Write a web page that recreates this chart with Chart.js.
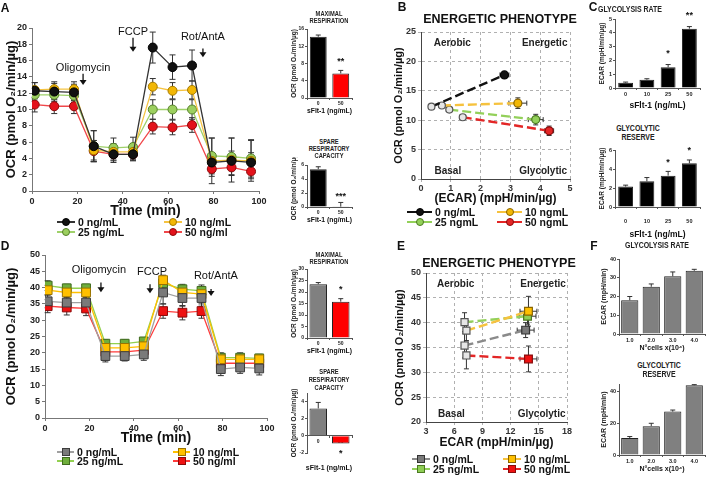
<!DOCTYPE html>
<html>
<head>
<meta charset="utf-8">
<title>sFlt-1 bioenergetics</title>
<script src="https://cdn.jsdelivr.net/npm/chart.js@4.4.1/dist/chart.umd.min.js"></script>
<style>
  html, body { margin: 0; padding: 0; background: #fff; }
  body { width: 708px; height: 478px; position: relative; overflow: hidden;
         font-family: 'Liberation Sans', Arial, sans-serif; color: #111; }
  canvas { position: absolute; }
  .lbl { position: absolute; font-weight: bold; white-space: nowrap; line-height: 1; }
  .ctr { transform: translate(-50%, -50%); }
  .nar { transform: translate(-50%, -50%) scaleX(0.82); color: #222; }
  .leg { position: absolute; font-weight: bold; font-size: 10.5px; white-space: nowrap; line-height: 1; }
  .leg i { position: absolute; display: block; box-sizing: border-box; }
</style>
</head>
<body>
<script>
// time of each Seahorse measurement (min)
const timePts = [1.2, 9.8, 18.5, 27.2, 35.9, 44.5, 53.2, 61.9, 70.5, 79.2, 87.9, 96.5];

// panel A: OCR per sFlt-1 dose
const ocrA0  = [12.3, 12.2, 12.1, 5.5, 4.5, 4.5, 17.6, 15.2, 15.4, 3.5, 3.7, 3.5];
const ocrA10 = [12.4, 12.5, 12.5, 5.0, 4.8, 4.8, 12.8, 12.3, 12.4, 3.7, 3.8, 3.7];
const ocrA25 = [11.8, 11.8, 11.7, 5.5, 5.3, 5.4, 10.0, 10.0, 10.0, 4.3, 4.2, 4.0];
const ocrA50 = [10.6, 10.4, 10.4, 4.9, 4.5, 4.5, 7.9, 7.8, 8.1, 2.7, 2.9, 2.4];
const errA0  = [1.0, 1.0, 1.0, 1.9, 1.0, 0.8, 1.9, 1.5, 1.9, 1.0, 1.2, 1.2];
const errA10 = [0.9, 0.9, 0.9, 1.2, 1.0, 1.0, 1.0, 1.0, 1.1, 2.8, 2.7, 2.5];
const errA25 = [0.8, 0.8, 0.8, 1.9, 1.2, 1.2, 1.2, 1.2, 1.2, 2.2, 2.3, 2.3];
const errA50 = [0.9, 0.9, 0.9, 1.3, 0.8, 0.7, 0.9, 0.9, 0.9, 0.9, 0.9, 0.9];

// panel D: OCR per sFlt-1 dose
const ocrD0  = [35.8, 35.4, 35.4, 19.0, 19.0, 19.5, 38.5, 36.8, 36.8, 15.0, 15.5, 15.2];
const ocrD10 = [39.2, 38.5, 38.5, 21.5, 21.5, 22.0, 42.3, 38.5, 38.0, 18.0, 18.0, 18.0];
const ocrD25 = [40.6, 39.8, 39.8, 22.8, 22.8, 23.5, 41.3, 39.5, 39.0, 18.5, 18.5, 18.3];
const ocrD50 = [34.3, 33.9, 33.6, 20.3, 20.3, 20.8, 32.8, 32.3, 32.8, 16.8, 16.8, 16.8];
const errD0  = [2.0, 2.0, 2.0, 1.8, 1.5, 1.8, 3.5, 2.5, 2.5, 2.0, 1.8, 2.0];
const errD10 = [1.5, 1.5, 1.5, 1.5, 1.5, 1.5, 1.5, 1.8, 1.8, 1.5, 1.5, 1.5];
const errD25 = [1.5, 1.2, 1.2, 1.2, 1.2, 1.2, 1.5, 1.5, 1.8, 1.5, 1.5, 1.2];
const errD50 = [2.0, 2.3, 2.2, 2.5, 2.3, 2.3, 2.2, 2.2, 2.2, 1.5, 1.5, 1.5];

// small bar panels
const doseTwo = ['0', '50'];
const maxRespA = [14.2, 5.7],  maxRespAErr = [0.4, 0.7];
const spareA   = [5.4, 0.05],  spareAErr   = [0.35, 0.6];
const maxRespD = [23.4, 15.8], maxRespDErr = [0.7, 1.3];
const spareD   = [3.2, -0.9],  spareDErr   = [0.7, 0];

const doseFour = ['0', '10', '25', '50'];
const glycoRateC = [0.38, 0.6, 1.5, 4.3],  glycoRateCErr = [0.05, 0.07, 0.2, 0.15];
const glycoResC  = [2.15, 2.7, 3.3, 4.6],  glycoResCErr  = [0.15, 0.4, 0.45, 0.35];
const cellsF = ['1.0', '2.0', '3.0', '4.0'];
const glycoRateF = [18, 25.2, 30.8, 33.7], glycoRateFErr = [2, 1.5, 2.3, 0.8];
const glycoResF  = [10.7, 18.3, 27.5, 44.2], glycoResFErr = [1, 1.8, 1, 0.4];

// energetic phenotype B (ECAR, OCR) basal -> stressed
const phBBasalX  = [0.35, 0.7, 0.95, 1.4],  phBBasalY  = [12.3, 12.5, 11.8, 10.5];
const phBStressX = [2.8, 3.25, 3.85, 4.3],  phBStressY = [17.7, 12.9, 10.1, 8.2];
const phBBasalXErr  = [0.08, 0.1, 0.1, 0.1],  phBBasalYErr  = [0.3, 0.3, 0.3, 0.3];
const phBStressXErr = [0.15, 0.3, 0.25, 0.15], phBStressYErr = [0.3, 0.9, 0.9, 0.8];

// energetic phenotype E
const phEBasalX  = [7.1, 7.3, 7.1, 7.3],    phEBasalY  = [35.4, 38.4, 40.1, 33.4];
const phEStressX = [13.6, 13.9, 13.8, 13.9], phEStressY = [38.5, 42.3, 41.3, 32.7];
const phEBasalXErr  = [0.2, 0.2, 0.2, 0.2],  phEBasalYErr  = [2.5, 2.0, 1.9, 2.7];
const phEStressXErr = [0.9, 0.9, 0.9, 0.9],  phEStressYErr = [1.5, 3.0, 1.6, 2.6];

const doseNamesA = ['0 ng/mL', '10 ng/mL', '25 ng/mL', '50 ng/ml'];
const doseNamesB = ['0 ng/mL', '10 ngmL', '25 ngmL', '50 ngmL'];
const doseNamesE = ['0 ng/mL', '10 ng/mL', '25 ng/mL', '50 ng/mL'];

const stylesA = [
  { fill: '#111111', border: '#000000', line: '#333333' },
  { fill: '#f2b705', border: '#a57a00', line: '#f5c342' },
  { fill: '#9ccf5f', border: '#557f2b', line: '#9fd16a' },
  { fill: '#e3121b', border: '#8c0a0a', line: '#f0474a' }
];
const stylesD = [
  { fill: '#7a7a7a', border: '#3c3c3c', line: '#a0a0a0' },
  { fill: '#ffc000', border: '#9a7300', line: '#ffc000' },
  { fill: '#6fae3c', border: '#3f6b1e', line: '#92d050' },
  { fill: '#ee1111', border: '#8a0a0a', line: '#ff3b3b' }
];
const stylesB = [
  { fill: '#111111', border: '#000000', line: '#111111' },
  { fill: '#f2b705', border: '#8a6500', line: '#f6c23e' },
  { fill: '#93d05a', border: '#4c7a22', line: '#93d05a' },
  { fill: '#e32626', border: '#8a0a0a', line: '#e32626' }
];
const stylesE = [
  { fill: '#7a7a7a', border: '#333333', line: '#8a8a8a' },
  { fill: '#ffc000', border: '#8a6500', line: '#f6c23e' },
  { fill: '#8fce55', border: '#4c7a22', line: '#93d05a' },
  { fill: '#ee1111', border: '#8a0a0a', line: '#e32626' }
];

const FONT = "'Liberation Sans', Arial, sans-serif";
Chart.defaults.font.family = FONT;
Chart.defaults.color = '#222';

// error bars, arrows, notes, asterisks, quadrant names
function drawErrors(chart, o) {
  const ctx = chart.ctx;
  chart.data.datasets.forEach((ds, i) => {
    if (!ds.errY && !ds.errX) return;
    const meta = chart.getDatasetMeta(i);
    const xs = chart.scales[meta.xAxisID], ys = chart.scales[meta.yAxisID];
    const cap = o.cap || 3;
    ctx.save();
    ctx.strokeStyle = o.errColor || '#333';
    ctx.lineWidth = 1;
    meta.data.forEach((el, j) => {
      const d = ds.data[j];
      const yv = typeof d === 'object' ? d.y : d;
      const xv = typeof d === 'object' ? d.x : null;
      ctx.beginPath();
      const ey = ds.errY && ds.errY[j];
      if (ey) {
        const t = ys.getPixelForValue(yv + ey);
        const b = ys.getPixelForValue(o.upOnly ? yv : yv - ey);
        ctx.moveTo(el.x, t); ctx.lineTo(el.x, b);
        ctx.moveTo(el.x - cap, t); ctx.lineTo(el.x + cap, t);
        if (!o.upOnly) { ctx.moveTo(el.x - cap, b); ctx.lineTo(el.x + cap, b); }
      }
      const ex = ds.errX && ds.errX[j];
      if (ex) {
        const l = xs.getPixelForValue(xv - ex), r = xs.getPixelForValue(xv + ex);
        ctx.moveTo(l, el.y); ctx.lineTo(r, el.y);
        ctx.moveTo(l, el.y - cap); ctx.lineTo(l, el.y + cap);
        ctx.moveTo(r, el.y - cap); ctx.lineTo(r, el.y + cap);
      }
      ctx.stroke();
    });
    ctx.restore();
  });
}

const extras = {
  id: 'extras',
  beforeDatasetsDraw(chart, args, o) { if (!o.onTop) drawErrors(chart, o); },
  afterDatasetsDraw(chart, args, o) { if (o.onTop) drawErrors(chart, o); },
  afterDraw(chart, args, o) {
    const ctx = chart.ctx, xs = chart.scales.x, ys = chart.scales.y, ca = chart.chartArea;
    ctx.save();
    ctx.textAlign = 'center';
    ctx.textBaseline = 'middle';
    ctx.fillStyle = '#111';
    (o.notes || []).forEach(n => {
      ctx.font = 'normal 11px ' + FONT;
      ctx.fillText(n.text, xs.getPixelForValue(n.x), ys.getPixelForValue(n.y));
    });
    (o.arrows || []).forEach(a => {
      const x = xs.getPixelForValue(a.x), y1 = ys.getPixelForValue(a.y1), y2 = ys.getPixelForValue(a.y2);
      ctx.strokeStyle = '#111'; ctx.lineWidth = 1.3;
      ctx.beginPath(); ctx.moveTo(x, y1); ctx.lineTo(x, y2 - 4); ctx.stroke();
      ctx.beginPath(); ctx.moveTo(x - 3.5, y2 - 5); ctx.lineTo(x + 3.5, y2 - 5); ctx.lineTo(x, y2); ctx.closePath(); ctx.fill();
    });
    if (o.stars) {
      const ds = chart.data.datasets[0], meta = chart.getDatasetMeta(0);
      ctx.font = 'bold ' + (o.starSize || 9) + 'px ' + FONT;
      o.stars.forEach((s, j) => {
        if (!s) return;
        const v = ds.data[j], e = (ds.errY && ds.errY[j]) || 0, x = meta.data[j].x;
        if (v >= 0) ctx.fillText(s, x, ys.getPixelForValue(v + e) - (o.starGap || 8));
        else ctx.fillText(s, x, ys.getPixelForValue(v) + (o.starGap || 8) + 4);
      });
    }
    (o.quad || []).forEach(q => {
      ctx.font = 'bold 10px ' + FONT;
      ctx.fillStyle = '#222';
      ctx.fillText(q.text, ca.left + q.fx * (ca.right - ca.left), ca.top + q.fy * (ca.bottom - ca.top));
    });
    ctx.restore();
  }
};
Chart.register(extras);

// place a canvas so that its plot area lands on [x0, y0, x1, y1]
const PT = 8;
function makeChart(id, area, yW, xH, pr, cfg) {
  const [x0, y0, x1, y1] = area;
  const c = document.createElement('canvas');
  c.id = id;
  c.width = x1 - x0 + yW + pr;
  c.height = y1 - y0 + PT + xH;
  c.style.left = (x0 - yW) + 'px';
  c.style.top = (y0 - PT) + 'px';
  document.body.appendChild(c);
  const op = cfg.options;
  op.responsive = false;
  op.animation = false;
  op.devicePixelRatio = 1;
  op.layout = { padding: { left: 0, top: PT, right: pr, bottom: 0 } };
  op.scales.x.afterFit = s => { s.height = xH; };
  op.scales.y.afterFit = s => { s.width = yW; };
  op.plugins = Object.assign({ legend: { display: false }, tooltip: { enabled: false } }, op.plugins);
  return new Chart(c, cfg);
}

function text(x, y, str, size, cls, extra) {
  const d = document.createElement('div');
  d.className = 'lbl ' + (cls || 'ctr');
  d.style.left = x + 'px';
  d.style.top = y + 'px';
  d.style.fontSize = size + 'px';
  if (extra) d.style.cssText += extra;
  d.textContent = str;
  document.body.appendChild(d);
}

function legend(xs, ys, lineW, names, styles, shape, size) {
  names.forEach((name, i) => {
    const s = styles[i], x = xs[i % 2], y = ys[Math.floor(i / 2)];
    const m = size || 8;
    const d = document.createElement('div');
    d.className = 'leg';
    d.style.left = x + 'px';
    d.style.top = y + 'px';
    d.innerHTML =
      '<i style="left:0;top:-1px;width:' + lineW + 'px;height:2px;background:' + s.line + '"></i>' +
      '<i style="left:' + (lineW / 2 - m / 2) + 'px;top:' + (-m / 2) + 'px;width:' + m + 'px;height:' + m +
      'px;border:1px solid ' + s.border + ';background:' + s.fill + ';border-radius:' + (shape === 'circle' ? '50%' : '0') + '"></i>' +
      '<span style="position:absolute;left:' + (lineW + 3) + 'px;top:0;transform:translateY(-50%)">' + name + '</span>';
    document.body.appendChild(d);
  });
}

function axis(size, extra) {
  return Object.assign({
    ticks: { font: { size: size, weight: 'bold' }, color: '#222', padding: 1 },
    grid: { drawOnChartArea: false, tickLength: 3, color: '#777' },
    border: { color: '#777' }
  }, extra);
}

// ---------- seahorse time courses ----------
function timeSets(series, errs, styles, shape, r) {
  return series.map((vals, i) => ({
    data: timePts.map((t, k) => ({ x: t, y: vals[k] })),
    errY: errs[i],
    borderColor: styles[i].line,
    borderWidth: 1.3,
    pointBackgroundColor: styles[i].fill,
    pointBorderColor: styles[i].border,
    pointBorderWidth: 1,
    pointRadius: r,
    pointStyle: shape
  }));
}

function timeCourse(id, area, series, errs, styles, shape, r, ymax, ystep, notes, arrows) {
  return makeChart(id, area, area[0], 30, 12, {
    type: 'line',
    data: { datasets: timeSets(series, errs, styles, shape, r) },
    options: {
      scales: {
        x: axis(9, {
          type: 'linear', min: 0, max: 100,
          ticks: { stepSize: 20, font: { size: 9, weight: 'bold' }, color: '#222', padding: 2 },
          title: { display: true, text: 'Time (min)', font: { size: 14, weight: 'bold' }, color: '#111', padding: { top: 0, bottom: 1 } }
        }),
        y: axis(9, {
          min: 0, max: ymax,
          ticks: { stepSize: ystep, font: { size: 9, weight: 'bold' }, color: '#222', padding: 2 },
          title: { display: true, text: 'OCR (pmol O\u2082/min/\u00b5g)', font: { size: 13, weight: 'bold' }, color: '#111', padding: { top: 4, bottom: 0 } }
        })
      },
      plugins: { extras: { cap: 3, notes: notes, arrows: arrows } }
    }
  });
}

timeCourse('cA', [32, 28, 259, 191], [ocrA0, ocrA10, ocrA25, ocrA50], [errA0, errA10, errA25, errA50],
  stylesA, 'circle', 4.5, 20, 2,
  [{ x: 22.5, y: 15.1, text: 'Oligomycin' }, { x: 44.5, y: 19.5, text: 'FCCP' }, { x: 75.3, y: 18.9, text: 'Rot/AntA' }],
  [{ x: 22.5, y1: 14.4, y2: 13.0 }, { x: 44.5, y1: 18.8, y2: 17.1 }, { x: 75.3, y1: 17.5, y2: 16.4 }]);

timeCourse('cD', [45, 255, 267, 418], [ocrD0, ocrD10, ocrD25, ocrD50], [errD0, errD10, errD25, errD50],
  stylesD, 'rect', 6.2, 50, 5,
  [{ x: 24.3, y: 45.4, text: 'Oligomycin' }, { x: 48.2, y: 44.8, text: 'FCCP' }, { x: 77, y: 43.6, text: 'Rot/AntA' }],
  [{ x: 25.2, y1: 41.6, y2: 38.6 }, { x: 47.3, y1: 41.0, y2: 38.3 }, { x: 74.8, y1: 39.6, y2: 37.4 }]);

legend([57, 164], [222, 232], 18, doseNamesA, stylesA, 'circle', 8);
legend([57, 173], [452, 461], 17, doseNamesA, stylesD, 'square', 8);

// ---------- small bar charts ----------
function barChart(id, area, yW, xH, labels, vals, errs, colors, yr, o) {
  const x = axis(o.tick, {
    z: 1,
    ticks: { font: { size: o.tick, weight: 'bold' }, color: '#222', padding: o.tp || 1 },
    grid: { drawOnChartArea: false, tickLength: 2, color: '#555' },
    border: { color: '#555' },
    title: { display: !!o.xTitle, text: o.xTitle || '', font: { size: o.xt, weight: 'bold' }, color: '#111', padding: 0 }
  });
  if (o.xPos) x.position = o.xPos;
  return makeChart(id, area, yW, xH, 3, {
    type: 'bar',
    data: {
      labels: labels,
      datasets: [{ data: vals, errY: errs, backgroundColor: colors, borderColor: '#222', borderWidth: 1,
                   barPercentage: o.bp, categoryPercentage: 1 }]
    },
    options: {
      scales: {
        x: x,
        y: axis(o.tick, {
          min: yr[0], max: yr[1],
          ticks: { stepSize: yr[2], includeBounds: false, font: { size: o.tick, weight: 'bold' }, color: '#222', padding: 1 },
          grid: { drawOnChartArea: false, tickLength: 2, color: '#555' },
          border: { color: '#555' },
          title: { display: true, text: o.yTitle, font: { size: o.yt, weight: 'bold' }, color: '#222', padding: { top: o.ytp, bottom: 0 } }
        })
      },
      plugins: { extras: { cap: 2.5, upOnly: true, onTop: true, stars: o.stars, starSize: o.ss || 9, starGap: o.sg || 8 } }
    }
  });
}

const ocrSmall = 'OCR (pmol O\u2082/min/\u00b5g)';
const sflt = 'sFlt-1 (ng/mL)';

barChart('aMax', [307, 29, 352, 98], 22, 17, doseTwo, maxRespA, maxRespAErr, ['#000000', '#ff0000'], [0, 16, 2],
  { tick: 5, bp: 0.75, xTitle: sflt, xt: 7, yTitle: ocrSmall, yt: 6.5, ytp: 5, stars: ['', '**'], sg: 9 });
barChart('aSpare', [307, 165, 352, 207], 22, 17, doseTwo, spareA, spareAErr, ['#000000', '#ff0000'], [0, 6, 1],
  { tick: 5, bp: 0.75, xTitle: sflt, xt: 7, yTitle: ocrSmall, yt: 6.5, ytp: 5, stars: ['', '***'], sg: 6 });
barChart('dMax', [307, 269, 352, 338], 22, 17, doseTwo, maxRespD, maxRespDErr, ['#808080', '#ff0000'], [0, 30, 5],
  { tick: 5, bp: 0.78, xTitle: sflt, xt: 7, yTitle: ocrSmall, yt: 6.5, ytp: 5, stars: ['', '*'], sg: 9 });
barChart('dSpare', [307, 393, 352, 455], 22, 2, doseTwo, spareD, spareDErr, ['#808080', '#ff0000'], [-2, 5, 2],
  { tick: 5, bp: 0.78, xPos: { y: 0 }, yTitle: ocrSmall, yt: 6.5, ytp: 5, stars: ['', '*'], sg: 6 });
text(329, 467, sflt, 7);

const ecarUg = 'ECAR (mpH/min/\u00b5g)';
barChart('cRate', [615, 19, 700, 88], 25, 23, doseFour, glycoRateC, glycoRateCErr, '#000000', [0, 5, 1],
  { tick: 5.5, tp: 1, bp: 0.7, xTitle: sflt, xt: 8.5, yTitle: ecarUg, yt: 6.5, ytp: 8, stars: ['', '', '*', '**'], sg: 11 });
barChart('cRes', [615, 150, 700, 207], 25, 33, doseFour, glycoResC, glycoResCErr, '#000000', [0, 6, 1],
  { tick: 5.5, tp: 9, bp: 0.7, xTitle: sflt, xt: 8.5, yTitle: ecarUg, yt: 6.5, ytp: 8, stars: ['', '', '*', '*'], sg: 9 });

const ecarF = 'ECAR (mpH/min)';
const cellsTitle = 'N\u00b0cells x(10\u2074)';
barChart('fRate', [619, 259, 705, 334], 29, 18, cellsF, glycoRateF, glycoRateFErr, '#808080', [0, 40, 10],
  { tick: 5.5, bp: 0.8, xTitle: cellsTitle, xt: 7, yTitle: ecarF, yt: 7, ytp: 10, stars: null });
barChart('fRes', [619, 384, 705, 455], 29, 18, cellsF, glycoResF, glycoResFErr, '#808080', [0, 45, 20],
  { tick: 5.5, bp: 0.8, xTitle: cellsTitle, xt: 7, yTitle: ecarF, yt: 7, ytp: 10, stars: null });

// ---------- energetic phenotype ----------
function phenoSets(bx, by, sx, sy, bxe, bye, sxe, sye, styles, shape, rb, rs) {
  return styles.map((s, i) => ({
    data: [{ x: bx[i], y: by[i] }, { x: sx[i], y: sy[i] }],
    errX: [bxe[i], sxe[i]],
    errY: [bye[i], sye[i]],
    showLine: true,
    borderColor: s.line,
    borderWidth: 2.4,
    borderDash: [9, 4],
    pointBackgroundColor: ['#e6e6e6', s.fill],
    pointBorderColor: ['#555555', s.border],
    pointBorderWidth: 1.2,
    pointRadius: [rb, rs],
    pointStyle: shape
  }));
}

function pheno(id, area, yW, xH, sets, xr, yr, xTitle, ytp) {
  const grid = { drawOnChartArea: true, tickLength: 3, color: '#b0b0b0' };
  return makeChart(id, area, yW, xH, 8, {
    type: 'scatter',
    data: { datasets: sets },
    options: {
      scales: {
        x: {
          min: xr[0], max: xr[1],
          ticks: { stepSize: xr[2], font: { size: 9, weight: 'bold' }, color: '#333', padding: 1 },
          grid: grid, border: { color: '#444', dash: [3, 3] },
          title: { display: true, text: xTitle, font: { size: 12, weight: 'bold' }, color: '#111', padding: { top: 0, bottom: 0 } }
        },
        y: {
          min: yr[0], max: yr[1],
          ticks: { stepSize: yr[2], font: { size: 9, weight: 'bold' }, color: '#333', padding: 2 },
          grid: grid, border: { color: '#444', dash: [3, 3] },
          title: { display: true, text: 'OCR (pmol O\u2082/min/\u00b5g)', font: { size: 11, weight: 'bold' }, color: '#111', padding: { top: ytp, bottom: 0 } }
        }
      },
      plugins: {
        extras: {
          cap: 2.5,
          quad: [
            { fx: 0.21, fy: 0.075, text: 'Aerobic' }, { fx: 0.83, fy: 0.075, text: 'Energetic' },
            { fx: 0.18, fy: 0.945, text: 'Basal' }, { fx: 0.82, fy: 0.945, text: 'Glycolytic' }
          ]
        }
      }
    }
  });
}

pheno('bPheno', [421, 32, 570, 179], 30, 27,
  phenoSets(phBBasalX, phBBasalY, phBStressX, phBStressY, phBBasalXErr, phBBasalYErr, phBStressXErr, phBStressYErr,
            stylesB, 'circle', 3.5, 4),
  [0, 5, 1], [0, 25, 5], '(ECAR) (mpH/min/\u00b5g)', 1.5);
pheno('ePheno', [426, 273, 567, 422], 34, 28,
  phenoSets(phEBasalX, phEBasalY, phEStressX, phEStressY, phEBasalXErr, phEBasalYErr, phEStressXErr, phEStressYErr,
            stylesE, 'rect', 5, 5.5),
  [3, 18, 3], [20, 50, 5], 'ECAR (mpH/min/\u00b5g)', 1.5);

legend([407, 497], [212, 222], 25, doseNamesB, stylesB, 'circle', 8);
legend([412, 503], [459, 469], 18, doseNamesE, stylesE, 'square', 8);

// ---------- titles and panel letters ----------
text(500, 19, 'ENERGETIC PHENOTYPE', 12.5);
text(499, 263, 'ENERGETIC PHENOTYPE', 12.5);

text(329, 13, 'MAXIMAL', 7, 'nar');
text(329, 20, 'RESPIRATION', 7, 'nar');
text(329, 141, 'SPARE', 7, 'nar');
text(329, 148, 'RESPIRATORY', 7, 'nar');
text(329, 155, 'CAPACITY', 7, 'nar');
text(329, 254, 'MAXIMAL', 7, 'nar');
text(329, 261, 'RESPIRATION', 7, 'nar');
text(329, 371, 'SPARE', 7, 'nar');
text(329, 379, 'RESPIRATORY', 7, 'nar');
text(329, 387, 'CAPACITY', 7, 'nar');

text(630, 9, 'GLYCOLYSIS RATE', 8.5, 'nar');
text(638, 128, 'GLYCOLYTIC', 8.5, 'nar');
text(638, 137, 'RESERVE', 8.5, 'nar');
text(657, 245, 'GLYCOLYSIS RATE', 8.5, 'nar');
text(659, 365, 'GLYCOLYTIC', 8.5, 'nar');
text(659, 374, 'RESERVE', 8.5, 'nar');

text(5, 8, 'A', 12);
text(402, 7, 'B', 12);
text(593, 7, 'C', 12);
text(5, 246, 'D', 12);
text(401, 246, 'E', 12);
text(594, 246, 'F', 12);
</script>
</body>
</html>
